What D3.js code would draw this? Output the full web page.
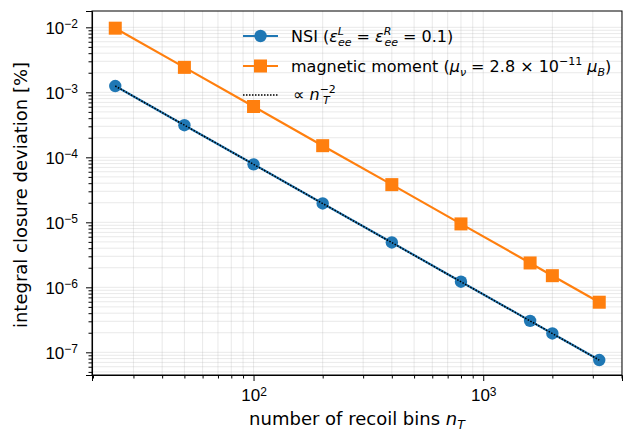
<!DOCTYPE html>
<html lang="en">
<head>
<meta charset="UTF-8">
<title>Integral closure deviation</title>
<script src="https://d3js.org/d3.v7.min.js"></script>
<style>
  body { margin: 0; background: #fff; }
  svg { display: block; font-family: "DejaVu Sans", sans-serif; }
  .grid line { stroke: #b0b0b0; stroke-opacity: 0.35; stroke-width: 0.8; }
  .axis path, .axis line { stroke: #000; }
  .axis text { font-size: 17px; fill: #000; }
</style>
</head>
<body>
<svg id="chart" width="624" height="433"></svg>
<script>
// number of recoil bins
const bins = [25, 50, 100, 200, 400, 800, 1600, 2000, 3200];
// NSI deviation [%]
const nsiValues = [1.25e-3, 3.12e-4, 7.8e-5, 1.95e-5, 4.9e-6, 1.22e-6, 3.05e-7, 1.95e-7, 7.6e-8];
// magnetic moment deviation [%]
const magValues = [9.7e-3, 2.42e-3, 6.05e-4, 1.51e-4, 3.8e-5, 9.45e-6, 2.37e-6, 1.51e-6, 5.9e-7];
// reference line proportional to n_T^-2
const refBins = [25, 3200];
const refValues = [1.25e-3, 7.6e-8];

const xMajor = [100, 1000];
const yMajor = [1e-2, 1e-3, 1e-4, 1e-5, 1e-6, 1e-7];

const svg = d3.select("#chart");
const margin = {left: 92, right: 2, top: 11, bottom: 58};
const width = 624, height = 433;
const plotW = width - margin.left - margin.right;
const plotH = height - margin.top - margin.bottom;

const x = d3.scaleLog().domain([19.8, 4020]).range([0, plotW]);
const y = d3.scaleLog().domain([10 ** -7.349, 10 ** -1.749]).range([plotH, 0]);

const g = svg.append("g").attr("transform", `translate(${margin.left},${margin.top})`);

// minor tick positions
const xMinor = [];
for (let d = 10; d <= 1000; d *= 10)
  for (let k = 2; k <= 9; k++) {
    const v = k * d;
    if (v > x.domain()[0] && v < x.domain()[1]) xMinor.push(v);
  }
const yMinor = [];
for (let e = -8; e <= -2; e++)
  for (let k = 2; k <= 9; k++) {
    const v = k * 10 ** e;
    if (v > y.domain()[0] && v < y.domain()[1]) yMinor.push(v);
  }

// grid, major and minor
const grid = g.append("g").attr("class", "grid");
grid.selectAll(".gx").data(xMajor.concat(xMinor)).join("line")
  .attr("x1", d => x(d)).attr("x2", d => x(d)).attr("y1", 0).attr("y2", plotH);
grid.selectAll(".gy").data(yMajor.concat(yMinor)).join("line")
  .attr("y1", d => y(d)).attr("y2", d => y(d)).attr("x1", 0).attr("x2", plotW);

// lines + markers
const line = d3.line().x(d => x(d[0])).y(d => y(d[1]));
const nsiData = bins.map((b, i) => [b, nsiValues[i]]);
const magData = bins.map((b, i) => [b, magValues[i]]);
const refData = refBins.map((b, i) => [b, refValues[i]]);

g.append("path").datum(nsiData).attr("d", line)
  .attr("fill", "none").attr("stroke", "#1f77b4").attr("stroke-width", 2.2);
g.selectAll(".nsi").data(nsiData).join("circle")
  .attr("cx", d => x(d[0])).attr("cy", d => y(d[1])).attr("r", 6.2)
  .attr("fill", "#1f77b4");

g.append("path").datum(magData).attr("d", line)
  .attr("fill", "none").attr("stroke", "#ff7f0e").attr("stroke-width", 2.2);
const sq = 13;
g.selectAll(".mag").data(magData).join("rect")
  .attr("x", d => x(d[0]) - sq / 2).attr("y", d => y(d[1]) - sq / 2)
  .attr("width", sq).attr("height", sq).attr("fill", "#ff7f0e");

g.append("path").datum(refData).attr("d", line)
  .attr("fill", "none").attr("stroke", "#000").attr("stroke-width", 1.5)
  .attr("stroke-dasharray", "1.5,1.5");

// axes
const xAxis = g.append("g").attr("class", "axis").attr("transform", `translate(0,${plotH})`)
  .call(d3.axisBottom(x).tickValues(xMajor).tickSize(6).tickPadding(6).tickFormat(() => ""));
g.append("g").attr("class", "axis").attr("transform", `translate(0,${plotH})`)
  .call(d3.axisBottom(x).tickValues(xMinor).tickSize(3.5).tickFormat(() => ""))
  .select(".domain").remove();
const yAxis = g.append("g").attr("class", "axis")
  .call(d3.axisLeft(y).tickValues(yMajor).tickSize(6).tickPadding(8).tickFormat(() => ""));
g.append("g").attr("class", "axis")
  .call(d3.axisLeft(y).tickValues(yMinor).tickSize(3.5).tickFormat(() => ""))
  .select(".domain").remove();

function powLabel(sel, d) {
  const e = Math.round(Math.log10(d));
  sel.text(null);
  sel.append("tspan").text("10");
  sel.append("tspan").attr("dy", "-0.45em").attr("font-size", "12px")
    .text(e < 0 ? "\u2212" + (-e) : String(e));
}
xAxis.selectAll(".tick text").each(function(d) { powLabel(d3.select(this), d); })
  .attr("dy", "14px");
yAxis.selectAll(".tick text").each(function(d) { powLabel(d3.select(this), d); })
  .attr("dy", "6px");

// frame
g.append("rect").attr("width", plotW).attr("height", plotH)
  .attr("fill", "none").attr("stroke", "#000").attr("stroke-width", 1);

// axis labels
const xl = svg.append("text").attr("x", margin.left + plotW / 2).attr("y", 425)
  .attr("text-anchor", "middle").attr("font-size", "18px");
xl.append("tspan").text("number of recoil bins ");
xl.append("tspan").attr("font-style", "italic").text("n");
xl.append("tspan").attr("font-style", "italic").attr("font-size", "12.5px").attr("dy", "4").text("T");

svg.append("text")
  .attr("transform", `translate(27,${margin.top + plotH / 2 + 2}) rotate(-90)`)
  .attr("text-anchor", "middle").attr("font-size", "18px")
  .text("integral closure deviation [%]");

// legend
const leg = svg.append("g").attr("font-size", "16px");
const lx0 = 243, lx1 = 278, tx = 291;
leg.append("line").attr("x1", lx0).attr("x2", lx1).attr("y1", 36).attr("y2", 36)
  .attr("stroke", "#1f77b4").attr("stroke-width", 2.2);
leg.append("circle").attr("cx", (lx0 + lx1) / 2).attr("cy", 36).attr("r", 6.2).attr("fill", "#1f77b4");
leg.append("line").attr("x1", lx0).attr("x2", lx1).attr("y1", 66).attr("y2", 66)
  .attr("stroke", "#ff7f0e").attr("stroke-width", 2.2);
leg.append("rect").attr("x", (lx0 + lx1) / 2 - sq / 2).attr("y", 66 - sq / 2)
  .attr("width", sq).attr("height", sq).attr("fill", "#ff7f0e");
leg.append("line").attr("x1", lx0).attr("x2", lx1).attr("y1", 95).attr("y2", 95)
  .attr("stroke", "#000").attr("stroke-width", 1.5).attr("stroke-dasharray", "1.5,1.5");

function parts(t, list) {
  list.forEach(p => {
    const s = t.append("tspan").text(p.t);
    if (p.i) s.attr("font-style", "italic");
    if (p.fs) s.attr("font-size", p.fs);
    if (p.dy) s.attr("dy", p.dy);
    if (p.dx) s.attr("dx", p.dx);
  });
}
const sub = "11px";
const t1 = leg.append("text").attr("x", tx).attr("y", 42);
parts(t1, [
  {t: "NSI ("}, {t: "\u03b5", i: 1},
  {t: "L", i: 1, fs: sub, dy: "-7"}, {t: "ee", i: 1, fs: sub, dy: "11", dx: "-6"},
  {t: " = ", dy: "-4"}, {t: "\u03b5", i: 1},
  {t: "R", i: 1, fs: sub, dy: "-7"}, {t: "ee", i: 1, fs: sub, dy: "11", dx: "-7"},
  {t: " = 0.1)", dy: "-4"}
]);
const t2 = leg.append("text").attr("x", tx).attr("y", 72);
parts(t2, [
  {t: "magnetic moment ("}, {t: "\u03bc", i: 1},
  {t: "\u03bd", i: 1, fs: sub, dy: "4"},
  {t: " = 2.8 \u00d7 10", dy: "-4"},
  {t: "\u221211", fs: sub, dy: "-7"},
  {t: " \u03bc", i: 1, dy: "7"},
  {t: "B", i: 1, fs: sub, dy: "4"},
  {t: ")", dy: "-4"}
]);
const t3 = leg.append("text").attr("x", tx + 2).attr("y", 100);
parts(t3, [
  {t: "\u221d "}, {t: "n", i: 1},
  {t: "\u22122", fs: sub, dy: "-7"},
  {t: "T", i: 1, fs: sub, dy: "11", dx: "-13"}
]);
</script>
</body>
</html>
